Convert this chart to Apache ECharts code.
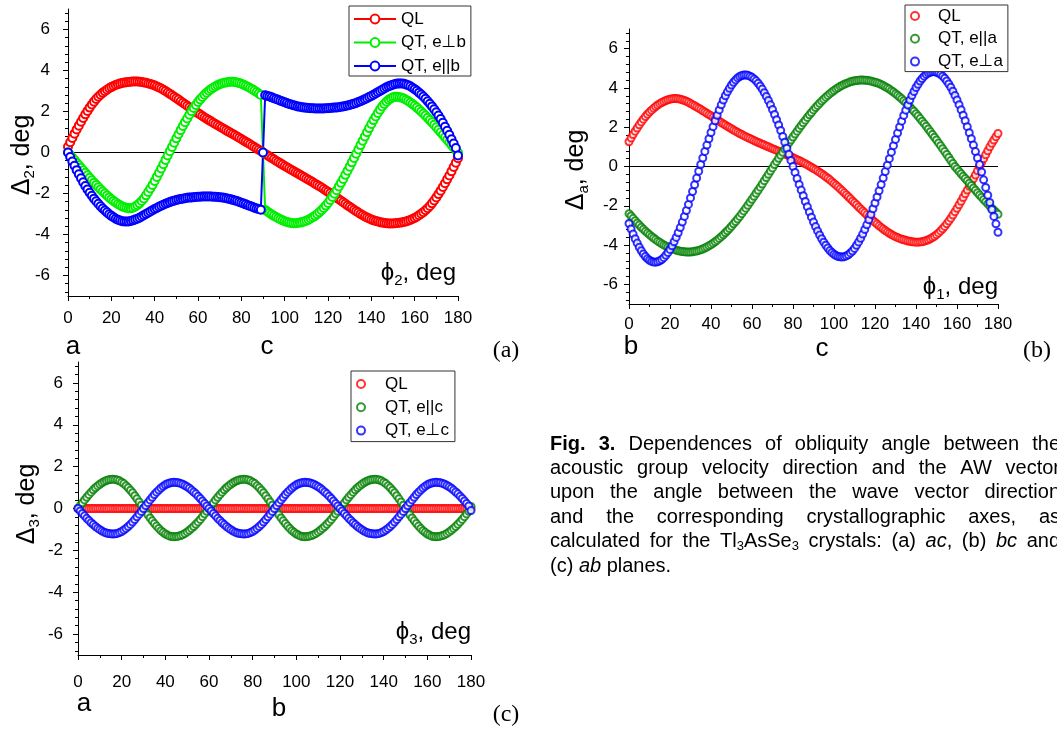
<!DOCTYPE html>
<html>
<head>
<meta charset="utf-8">
<script src="https://cdn.jsdelivr.net/npm/echarts@6/dist/echarts.min.js"></script>
<style>
  html, body { margin: 0; padding: 0; background: #fff; }
  #main { width: 1057px; height: 733px; }
</style>
</head>
<body>
<div id="main"></div>
<script>
// angle of the wave vector, deg (same grid for the three panels)
var phi = [0,1,2,3,4,5,6,7,8,9,10,11,12,13,14,15,16,17,18,19,20,21,22,23,24,25,26,27,28,29,
  30,31,32,33,34,35,36,37,38,39,40,41,42,43,44,45,46,47,48,49,50,51,52,53,54,55,56,57,58,59,
  60,61,62,63,64,65,66,67,68,69,70,71,72,73,74,75,76,77,78,79,80,81,82,83,84,85,86,87,88,89,
  90,91,92,93,94,95,96,97,98,99,100,101,102,103,104,105,106,107,108,109,110,111,112,113,114,115,116,117,118,119,
  120,121,122,123,124,125,126,127,128,129,130,131,132,133,134,135,136,137,138,139,140,141,142,143,144,145,146,147,148,149,
  150,151,152,153,154,155,156,157,158,159,160,161,162,163,164,165,166,167,168,169,170,171,172,173,174,175,176,177,178,179,180];

// (a) ac plane
var qlA = [0.28,0.50,0.71,0.92,1.12,1.31,1.50,1.68,1.86,2.03,2.19,2.34,2.48,2.61,2.72,2.82,2.91,2.99,3.06,3.13,
  3.19,3.24,3.29,3.33,3.36,3.39,3.41,3.43,3.44,3.45,3.46,3.46,3.46,3.45,3.44,3.42,3.40,3.37,3.34,3.31,
  3.27,3.22,3.17,3.12,3.06,3.00,2.93,2.86,2.79,2.72,2.65,2.58,2.50,2.43,2.35,2.28,2.21,2.13,2.06,1.99,
  1.92,1.85,1.78,1.71,1.65,1.58,1.52,1.45,1.39,1.33,1.27,1.21,1.15,1.08,1.02,0.96,0.90,0.84,0.78,0.72,
  0.66,0.59,0.53,0.46,0.40,0.33,0.27,0.20,0.13,0.07,0,
  -0.07,-0.13,-0.20,-0.27,-0.33,-0.40,-0.46,-0.53,-0.59,-0.66,-0.72,-0.78,-0.84,-0.90,-0.96,-1.02,-1.08,-1.15,-1.21,-1.27,
  -1.33,-1.39,-1.45,-1.52,-1.58,-1.65,-1.71,-1.78,-1.85,-1.92,-1.99,-2.06,-2.13,-2.21,-2.28,-2.35,-2.43,-2.50,-2.58,-2.65,
  -2.72,-2.79,-2.86,-2.93,-3.00,-3.06,-3.12,-3.17,-3.22,-3.27,-3.31,-3.34,-3.37,-3.40,-3.42,-3.44,-3.45,-3.46,-3.46,-3.46,
  -3.45,-3.44,-3.43,-3.41,-3.39,-3.36,-3.33,-3.29,-3.24,-3.19,-3.13,-3.06,-2.99,-2.91,-2.82,-2.72,-2.61,-2.48,-2.34,-2.19,
  -2.03,-1.86,-1.68,-1.50,-1.31,-1.12,-0.92,-0.71,-0.50,-0.28];
var qtPerpB = [0,-0.12,-0.25,-0.37,-0.50,-0.62,-0.74,-0.87,-0.99,-1.11,-1.23,-1.35,-1.47,-1.58,-1.69,-1.80,-1.90,-2.00,-2.10,-2.19,
  -2.28,-2.36,-2.44,-2.51,-2.57,-2.63,-2.67,-2.70,-2.72,-2.72,-2.69,-2.64,-2.57,-2.48,-2.37,-2.24,-2.09,-1.93,-1.76,-1.58,
  -1.39,-1.19,-0.99,-0.78,-0.57,-0.36,-0.15,0.06,0.27,0.48,0.69,0.89,1.09,1.29,1.48,1.66,1.84,2.01,2.17,2.32,
  2.46,2.59,2.71,2.82,2.92,3.01,3.09,3.16,3.22,3.28,3.33,3.37,3.40,3.42,3.44,3.45,3.45,3.44,3.42,3.39,
  3.35,3.31,3.26,3.21,3.15,3.09,3.02,2.95,2.88,2.81,0,
  -2.81,-2.88,-2.95,-3.02,-3.09,-3.15,-3.21,-3.26,-3.31,-3.35,-3.39,-3.42,-3.44,-3.45,-3.45,-3.44,-3.42,-3.40,-3.37,-3.33,
  -3.28,-3.22,-3.16,-3.09,-3.01,-2.92,-2.82,-2.71,-2.59,-2.46,-2.32,-2.17,-2.01,-1.84,-1.66,-1.48,-1.29,-1.09,-0.89,-0.69,
  -0.48,-0.27,-0.06,0.15,0.36,0.57,0.78,0.99,1.19,1.39,1.58,1.76,1.93,2.09,2.24,2.37,2.48,2.57,2.64,2.69,
  2.72,2.72,2.70,2.67,2.63,2.57,2.51,2.44,2.36,2.28,2.19,2.10,2.00,1.90,1.80,1.69,1.58,1.47,1.35,1.23,
  1.11,0.99,0.87,0.74,0.62,0.50,0.37,0.25,0.12,0];
var qtParB = [0.00,-0.22,-0.44,-0.65,-0.86,-1.06,-1.26,-1.45,-1.63,-1.80,-1.96,-2.11,-2.25,-2.38,-2.50,-2.62,-2.73,-2.83,-2.92,-3.01,
  -3.09,-3.16,-3.23,-3.28,-3.32,-3.35,-3.37,-3.37,-3.36,-3.34,-3.31,-3.27,-3.23,-3.18,-3.12,-3.06,-3.00,-2.94,-2.88,-2.82,
  -2.76,-2.71,-2.65,-2.60,-2.55,-2.50,-2.46,-2.42,-2.38,-2.35,-2.32,-2.29,-2.27,-2.25,-2.23,-2.21,-2.20,-2.19,-2.18,-2.17,
  -2.16,-2.16,-2.15,-2.15,-2.15,-2.15,-2.15,-2.16,-2.16,-2.17,-2.18,-2.19,-2.21,-2.23,-2.25,-2.28,-2.31,-2.34,-2.37,-2.41,
  -2.45,-2.49,-2.53,-2.57,-2.61,-2.65,-2.69,-2.73,-2.76,-2.79,0,
  2.79,2.76,2.73,2.69,2.65,2.61,2.57,2.53,2.49,2.45,2.41,2.37,2.34,2.31,2.28,2.25,2.23,2.21,2.19,2.18,
  2.17,2.16,2.16,2.15,2.15,2.15,2.15,2.15,2.16,2.16,2.17,2.18,2.19,2.20,2.21,2.23,2.25,2.27,2.29,2.32,
  2.35,2.38,2.42,2.46,2.50,2.55,2.60,2.65,2.71,2.76,2.82,2.88,2.94,3.00,3.06,3.12,3.18,3.23,3.27,3.31,
  3.34,3.36,3.37,3.37,3.35,3.32,3.28,3.23,3.16,3.09,3.01,2.92,2.83,2.73,2.62,2.50,2.38,2.25,2.11,1.96,
  1.80,1.63,1.45,1.26,1.06,0.86,0.65,0.44,0.22,-0.15];

// (b) bc plane
var qlB = [1.26,1.45,1.63,1.80,1.96,2.12,2.27,2.41,2.54,2.66,2.77,2.87,2.96,3.05,3.13,3.20,3.26,3.31,3.36,3.40,
  3.43,3.45,3.46,3.46,3.45,3.43,3.40,3.36,3.32,3.27,3.21,3.15,3.09,3.03,2.97,2.91,2.84,2.78,2.71,2.64,
  2.58,2.51,2.44,2.37,2.31,2.24,2.17,2.11,2.04,1.98,1.92,1.86,1.80,1.74,1.68,1.63,1.57,1.52,1.47,1.42,
  1.37,1.32,1.27,1.22,1.18,1.13,1.09,1.04,1.00,0.95,0.91,0.87,0.82,0.78,0.73,0.69,0.64,0.60,0.55,0.50,
  0.45,0.40,0.35,0.30,0.25,0.19,0.14,0.08,0.02,-0.04,-0.10,-0.16,-0.23,-0.30,-0.37,-0.44,-0.52,-0.60,-0.68,-0.77,
  -0.86,-0.95,-1.04,-1.14,-1.24,-1.34,-1.44,-1.54,-1.64,-1.75,-1.85,-1.95,-2.06,-2.16,-2.26,-2.36,-2.46,-2.56,-2.66,-2.75,
  -2.84,-2.93,-3.02,-3.10,-3.18,-3.26,-3.33,-3.40,-3.46,-3.52,-3.57,-3.62,-3.66,-3.70,-3.73,-3.76,-3.79,-3.81,-3.83,-3.84,
  -3.85,-3.85,-3.84,-3.83,-3.80,-3.77,-3.73,-3.68,-3.62,-3.55,-3.47,-3.38,-3.28,-3.17,-3.05,-2.92,-2.78,-2.63,-2.47,-2.30,
  -2.13,-1.95,-1.77,-1.58,-1.39,-1.20,-1.01,-0.82,-0.62,-0.43,-0.22,0.00,0.20,0.40,0.60,0.80,1.00,1.18,1.35,1.52,1.68];
var qtParA = [-2.40,-2.52,-2.64,-2.76,-2.87,-2.98,-3.09,-3.19,-3.29,-3.38,-3.47,-3.56,-3.64,-3.72,-3.80,-3.86,-3.93,-3.99,-4.05,-4.10,
  -4.15,-4.19,-4.23,-4.26,-4.29,-4.31,-4.33,-4.34,-4.35,-4.35,-4.35,-4.34,-4.32,-4.30,-4.27,-4.24,-4.20,-4.15,-4.10,-4.04,
  -3.98,-3.91,-3.83,-3.75,-3.66,-3.57,-3.48,-3.37,-3.27,-3.16,-3.04,-2.92,-2.80,-2.67,-2.54,-2.40,-2.26,-2.12,-1.97,-1.82,
  -1.67,-1.52,-1.36,-1.21,-1.05,-0.89,-0.72,-0.56,-0.40,-0.23,-0.07,0.10,0.26,0.42,0.57,0.73,0.89,1.05,1.20,1.35,
  1.50,1.65,1.80,1.95,2.09,2.23,2.36,2.50,2.63,2.75,2.88,3.00,3.11,3.22,3.33,3.43,3.53,3.62,3.71,3.79,
  3.87,3.95,4.01,4.08,4.13,4.19,4.23,4.27,4.31,4.34,4.36,4.38,4.39,4.40,4.40,4.39,4.39,4.37,4.35,4.32,
  4.29,4.26,4.22,4.17,4.12,4.06,4.00,3.94,3.86,3.79,3.71,3.63,3.54,3.45,3.35,3.25,3.14,3.04,2.92,2.81,
  2.69,2.57,2.44,2.31,2.18,2.05,1.91,1.77,1.63,1.49,1.35,1.20,1.06,0.91,0.76,0.61,0.46,0.30,0.15,0.00,
  -0.12,-0.25,-0.37,-0.49,-0.61,-0.73,-0.85,-0.97,-1.09,-1.21,-1.33,-1.45,-1.56,-1.68,-1.79,-1.90,-2.01,-2.12,-2.23,-2.33,-2.43];
var qtPerpA = [-2.90,-3.18,-3.44,-3.68,-3.90,-4.11,-4.29,-4.45,-4.58,-4.69,-4.77,-4.83,-4.86,-4.87,-4.85,-4.80,-4.74,-4.64,-4.52,-4.38,
  -4.22,-4.04,-3.83,-3.61,-3.37,-3.11,-2.83,-2.54,-2.24,-1.93,-1.60,-1.27,-0.93,-0.59,-0.24,0.10,0.43,0.77,1.09,1.41,
  1.73,2.03,2.33,2.61,2.88,3.14,3.38,3.60,3.80,3.98,4.15,4.29,4.41,4.51,4.58,4.63,4.66,4.66,4.64,4.60,
  4.54,4.46,4.36,4.24,4.10,3.94,3.76,3.57,3.36,3.14,2.90,2.65,2.38,2.11,1.83,1.53,1.24,0.93,0.62,0.31,
  0.00,-0.30,-0.61,-0.91,-1.20,-1.49,-1.78,-2.05,-2.32,-2.58,-2.83,-3.06,-3.28,-3.49,-3.68,-3.85,-4.01,-4.15,-4.28,-4.38,
  -4.47,-4.53,-4.58,-4.60,-4.61,-4.59,-4.55,-4.49,-4.40,-4.30,-4.17,-4.01,-3.84,-3.65,-3.44,-3.21,-2.97,-2.71,-2.44,-2.15,
  -1.86,-1.55,-1.24,-0.92,-0.59,-0.26,0.07,0.40,0.73,1.06,1.38,1.70,2.01,2.31,2.60,2.87,3.13,3.38,3.61,3.82,
  4.02,4.19,4.35,4.48,4.60,4.69,4.76,4.80,4.83,4.83,4.80,4.76,4.69,4.60,4.49,4.35,4.20,4.03,3.83,3.62,
  3.39,3.15,2.89,2.61,2.33,2.03,1.72,1.41,1.09,0.76,0.43,0.10,-0.28,-0.68,-1.07,-1.46,-1.83,-2.19,-2.54,-2.92,-3.35];

// (c) ab plane
var qlC = [0,0,0,0,0,0,0,0,0,0,0,0,0,0,0,0,0,0,0,0,0,0,0,0,0,0,0,0,0,0,
  0,0,0,0,0,0,0,0,0,0,0,0,0,0,0,0,0,0,0,0,0,0,0,0,0,0,0,0,0,0,
  0,0,0,0,0,0,0,0,0,0,0,0,0,0,0,0,0,0,0,0,0,0,0,0,0,0,0,0,0,0,
  0,0,0,0,0,0,0,0,0,0,0,0,0,0,0,0,0,0,0,0,0,0,0,0,0,0,0,0,0,0,
  0,0,0,0,0,0,0,0,0,0,0,0,0,0,0,0,0,0,0,0,0,0,0,0,0,0,0,0,0,0,
  0,0,0,0,0,0,0,0,0,0,0,0,0,0,0,0,0,0,0,0,0,0,0,0,0,0,0,0,0,0,0];
var qtParC = [0,0.14,0.27,0.41,0.54,0.66,0.78,0.89,0.99,1.08,1.16,1.23,1.29,1.34,1.37,1.39,1.40,1.39,1.36,1.32,
  1.26,1.19,1.09,0.99,0.87,0.75,0.61,0.46,0.31,0.16,0,-0.15,-0.30,-0.45,-0.59,-0.72,-0.84,-0.95,-1.06,-1.14,
  -1.22,-1.27,-1.32,-1.34,-1.35,-1.34,-1.32,-1.29,-1.25,-1.19,-1.12,-1.04,-0.95,-0.86,-0.75,-0.64,-0.52,-0.39,-0.26,-0.13,
  0,0.14,0.27,0.41,0.54,0.66,0.78,0.89,0.99,1.08,1.16,1.23,1.29,1.34,1.37,1.39,1.40,1.39,1.36,1.32,
  1.26,1.19,1.09,0.99,0.87,0.75,0.61,0.46,0.31,0.16,0,-0.15,-0.30,-0.45,-0.59,-0.72,-0.84,-0.95,-1.06,-1.14,
  -1.22,-1.27,-1.32,-1.34,-1.35,-1.34,-1.32,-1.29,-1.25,-1.19,-1.12,-1.04,-0.95,-0.86,-0.75,-0.64,-0.52,-0.39,-0.26,-0.13,
  0,0.14,0.27,0.41,0.54,0.66,0.78,0.89,0.99,1.08,1.16,1.23,1.29,1.34,1.37,1.39,1.40,1.39,1.36,1.32,
  1.26,1.19,1.09,0.99,0.87,0.75,0.61,0.46,0.31,0.16,0,-0.15,-0.30,-0.45,-0.59,-0.72,-0.84,-0.95,-1.06,-1.14,
  -1.22,-1.27,-1.32,-1.34,-1.35,-1.34,-1.32,-1.29,-1.25,-1.19,-1.12,-1.04,-0.95,-0.86,-0.75,-0.64,-0.52,-0.39,-0.26,-0.13,0.10];
var qtPerpC = [0,-0.12,-0.24,-0.35,-0.47,-0.57,-0.68,-0.77,-0.86,-0.94,-1.01,-1.08,-1.13,-1.17,-1.20,-1.21,-1.22,-1.21,-1.19,-1.15,
  -1.10,-1.03,-0.95,-0.86,-0.76,-0.65,-0.53,-0.40,-0.27,-0.14,0,0.14,0.28,0.41,0.54,0.67,0.78,0.88,0.98,1.06,
  1.13,1.18,1.22,1.24,1.25,1.24,1.23,1.20,1.16,1.10,1.04,0.97,0.88,0.79,0.70,0.59,0.48,0.36,0.24,0.12,
  0,-0.12,-0.24,-0.35,-0.47,-0.57,-0.68,-0.77,-0.86,-0.94,-1.01,-1.08,-1.13,-1.17,-1.20,-1.21,-1.22,-1.21,-1.19,-1.15,
  -1.10,-1.03,-0.95,-0.86,-0.76,-0.65,-0.53,-0.40,-0.27,-0.14,0,0.14,0.28,0.41,0.54,0.67,0.78,0.88,0.98,1.06,
  1.13,1.18,1.22,1.24,1.25,1.24,1.23,1.20,1.16,1.10,1.04,0.97,0.88,0.79,0.70,0.59,0.48,0.36,0.24,0.12,
  0,-0.12,-0.24,-0.35,-0.47,-0.57,-0.68,-0.77,-0.86,-0.94,-1.01,-1.08,-1.13,-1.17,-1.20,-1.21,-1.22,-1.21,-1.19,-1.15,
  -1.10,-1.03,-0.95,-0.86,-0.76,-0.65,-0.53,-0.40,-0.27,-0.14,0,0.14,0.28,0.41,0.54,0.67,0.78,0.88,0.98,1.06,
  1.13,1.18,1.22,1.24,1.25,1.24,1.23,1.20,1.16,1.10,1.04,0.97,0.88,0.79,0.70,0.59,0.48,0.36,0.24,0.12,-0.10];

var zeroLine = [[0, 0], [180, 0]];
var yMajor = [-6, -4, -2, 0, 2, 4, 6];
var yMinor = [-6.8,-6.4,-5.6,-5.2,-4.8,-4.4,-3.6,-3.2,-2.8,-2.4,-1.6,-1.2,-0.8,-0.4,
  0.4,0.8,1.2,1.6,2.4,2.8,3.2,3.6,4.4,4.8,5.2,5.6,6.4,6.8];
var legendText = {
  a0: 'QL', a1: 'QT, e\u22a5b', a2: 'QT, e||b',
  b0: 'QL', b1: 'QT, e||a', b2: 'QT, e\u22a5a',
  c0: 'QL', c1: 'QT, e||c', c2: 'QT, e\u22a5c'
};

var F = '"Liberation Sans", Arial, "DejaVu Sans", sans-serif';
var RED = '#ff0000', LIME = '#00ee00', GREEN = '#008000', BLUE = '#0000ff';

var chart = echarts.init(document.getElementById('main'));

function pts(ys) {
  return phi.map(function (p, i) { return [p, ys[i]]; });
}

function xAx(gi, margin) {
  return {
    type: 'value', gridIndex: gi, min: 0, max: 180, interval: 20,
    axisLine: { onZero: false, lineStyle: { color: '#000', width: 1 } },
    axisTick: { length: 5, lineStyle: { color: '#000' } },
    minorTick: { show: true, splitNumber: 2, length: 3, lineStyle: { color: '#000' } },
    axisLabel: { margin: margin, fontSize: 17, fontFamily: F, color: '#000' },
    splitLine: { show: false }, minorSplitLine: { show: false }
  };
}
function yAx(gi, margin) {
  return {
    type: 'value', gridIndex: gi, position: 'left', min: -7, max: 7,
    axisLine: { show: true, onZero: false, lineStyle: { color: '#000', width: 1 } },
    axisTick: { show: true, customValues: yMajor, length: 5, lineStyle: { color: '#000' } },
    axisLabel: { customValues: yMajor, margin: margin, fontSize: 17, fontFamily: F, color: '#000' },
    splitLine: { show: false }
  };
}
function yAxMinor(gi) {
  return {
    type: 'value', gridIndex: gi, position: 'left', offset: 0, min: -7, max: 7,
    axisLine: { show: false, onZero: false },
    axisTick: { show: true, customValues: yMinor, length: 3, lineStyle: { color: '#000' } },
    axisLabel: { show: false },
    splitLine: { show: false }
  };
}

function zero(gi) {
  return {
    type: 'line', name: 'zero' + gi, xAxisIndex: gi, yAxisIndex: gi * 2, z: 1,
    data: zeroLine, symbol: 'none', silent: true,
    lineStyle: { color: '#000', width: 1 }
  };
}
function lineS(name, ys, color) {
  return {
    type: 'line', name: name, xAxisIndex: 0, yAxisIndex: 0, data: pts(ys),
    symbol: 'emptyCircle', symbolSize: 8, showAllSymbol: true, silent: true,
    lineStyle: { color: color, width: 2 },
    itemStyle: { color: color, borderWidth: 1 }
  };
}
function dotS(name, gi, ys, color) {
  return {
    type: 'scatter', name: name, xAxisIndex: gi, yAxisIndex: gi * 2, data: pts(ys),
    symbol: 'emptyCircle', symbolSize: 7, silent: true,
    itemStyle: { color: color, borderWidth: 1 }
  };
}
function legendFmt(n) { return legendText[n]; }
function leg(names, left, top, iw, ih, gap, pad) {
  return {
    data: names, orient: 'vertical', left: left, top: top,
    itemWidth: iw, itemHeight: ih, itemGap: gap, padding: pad,
    borderColor: '#333', borderWidth: 1, backgroundColor: '#fff',
    selectedMode: false, formatter: legendFmt,
    textStyle: { fontSize: 17, fontFamily: F, color: '#000', lineHeight: 20 }
  };
}

// rotated / inline axis titles with subscripts
function title(x, y, main, s, rot, align, size) {
  var st = {
    text: '{m|' + main + '}{s|' + s + '}{m|, deg}',
    rich: {
      m: { fontSize: size, fontFamily: F, lineHeight: 30, fill: '#000' },
      s: { fontSize: 15, fontFamily: F, lineHeight: 15, verticalAlign: 'bottom', fill: '#000' }
    },
    fill: '#000'
  };
  st.align = st.textAlign = align;
  st.verticalAlign = st.textVerticalAlign = 'middle';
  return { type: 'text', x: x, y: y, rotation: rot, silent: true, style: st };
}
function tag(x, y, text, size, serif) {
  return {
    type: 'text', x: x, y: y, silent: true,
    style: {
      text: text, fill: '#000',
      font: size + 'px ' + (serif ? '"Liberation Serif", "Times New Roman", serif' : F),
      align: 'center', textAlign: 'center', verticalAlign: 'middle', textVerticalAlign: 'middle'
    }
  };
}

// figure caption, justified like the source text block
var capLines = [
  [[['Fig.', 'b']], [['3.', 'b']], 'Dependences', 'of', 'obliquity', 'angle', 'between', 'the'],
  ['acoustic', 'group', 'velocity', 'direction', 'and', 'the', 'AW', 'vector'],
  ['upon', 'the', 'angle', 'between', 'the', 'wave', 'vector', 'direction'],
  ['and', 'the', 'corresponding', 'crystallographic', 'axes,', 'as'],
  ['calculated', 'for', 'the', [['Tl', 'n'], ['3', 's'], ['AsSe', 'n'], ['3', 's']], 'crystals:', '(a)',
    [['ac', 'i'], [',', 'n']], '(b)', [['bc', 'i']], 'and'],
  ['(c)', [['ab', 'i']], 'planes.']
];
var capLeft = 550, capRight = 1060, capTop = 444, capLead = 24.4, capSize = 20;
var ctx = document.createElement('canvas').getContext('2d');
function fragFont(st) {
  if (st === 's') return '13px ' + F;
  return (st === 'i' ? 'italic ' : '') + (st === 'b' ? 'bold ' : '') + capSize + 'px ' + F;
}
function fragW(fr) { ctx.font = fragFont(fr[1]); return ctx.measureText(fr[0]).width; }
var capEls = [];
capLines.forEach(function (words, li) {
  words = words.map(function (w) { return typeof w === 'string' ? [[w, 'n']] : w; });
  var ws = words.map(function (w) { return w.reduce(function (s, fr) { return s + fragW(fr); }, 0); });
  var total = ws.reduce(function (a, b) { return a + b; }, 0);
  var gap = li < capLines.length - 1 ? (capRight - capLeft - total) / (words.length - 1) : fragW([' ', 'n']);
  var x = capLeft, y = capTop + li * capLead;
  words.forEach(function (w, wi) {
    var xx = x;
    w.forEach(function (fr) {
      capEls.push({
        type: 'text', x: xx, y: fr[1] === 's' ? y + 5 : y, silent: true,
        style: { text: fr[0], font: fragFont(fr[1]), fill: '#000',
          align: 'left', textAlign: 'left', verticalAlign: 'middle', textVerticalAlign: 'middle' }
      });
      xx += fragW(fr);
    });
    x += ws[wi] + gap;
  });
});

var option = {
  animation: false,
  backgroundColor: '#fff',
  grid: [
    { left: 68, top: 9, width: 390, height: 287, outerBoundsMode: 'none' },
    { left: 629, top: 29, width: 369, height: 275, outerBoundsMode: 'none' },
    { left: 78, top: 362, width: 393, height: 293, outerBoundsMode: 'none' }
  ],
  xAxis: [xAx(0, 14), xAx(1, 12), xAx(2, 19)],
  yAxis: [yAx(0, 18), yAxMinor(0), yAx(1, 11), yAxMinor(1), yAx(2, 15), yAxMinor(2)],
  legend: [
    leg(['a0', 'a1', 'a2'], 349, 6, 42, 11, 3.5, [3, 5, 0, 4]),
    leg(['b0', 'b1', 'b2'], 905, 5, 36, 8, 2.8, [1, 5, 0, 5]),
    leg(['c0', 'c1', 'c2'], 351, 371, 38, 8, 3.3, [3, 6, 1, 5])
  ],
  series: [
    zero(0),
    lineS('a0', qlA, RED),
    lineS('a1', qtPerpB, LIME),
    lineS('a2', qtParB, BLUE),
    zero(1),
    dotS('b0', 1, qlB, RED),
    dotS('b1', 1, qtParA, GREEN),
    dotS('b2', 1, qtPerpA, BLUE),
    zero(2),
    dotS('c0', 2, qlC, RED),
    dotS('c1', 2, qtParC, GREEN),
    dotS('c2', 2, qtPerpC, BLUE)
  ],
  graphic: [
    title(22, 155, '\u0394', '2', Math.PI / 2, 'center', 25),
    title(576, 170, '\u0394', 'a', Math.PI / 2, 'center', 25),
    title(27, 504, '\u0394', '3', Math.PI / 2, 'center', 25),
    title(456, 273, '\u03d5', '2', 0, 'right', 24),
    title(998, 287, '\u03d5', '1', 0, 'right', 24),
    title(471, 632, '\u03d5', '3', 0, 'right', 24),
    tag(73, 347, 'a', 26), tag(267, 347, 'c', 26), tag(506, 351, '(a)', 24, true),
    tag(631, 347, 'b', 26), tag(822, 349, 'c', 26), tag(1037, 351, '(b)', 24, true),
    tag(84, 704, 'a', 26), tag(279, 709, 'b', 26), tag(506, 715, '(c)', 24, true)
  ].concat(capEls)
};

chart.setOption(option);
</script>
</body>
</html>
